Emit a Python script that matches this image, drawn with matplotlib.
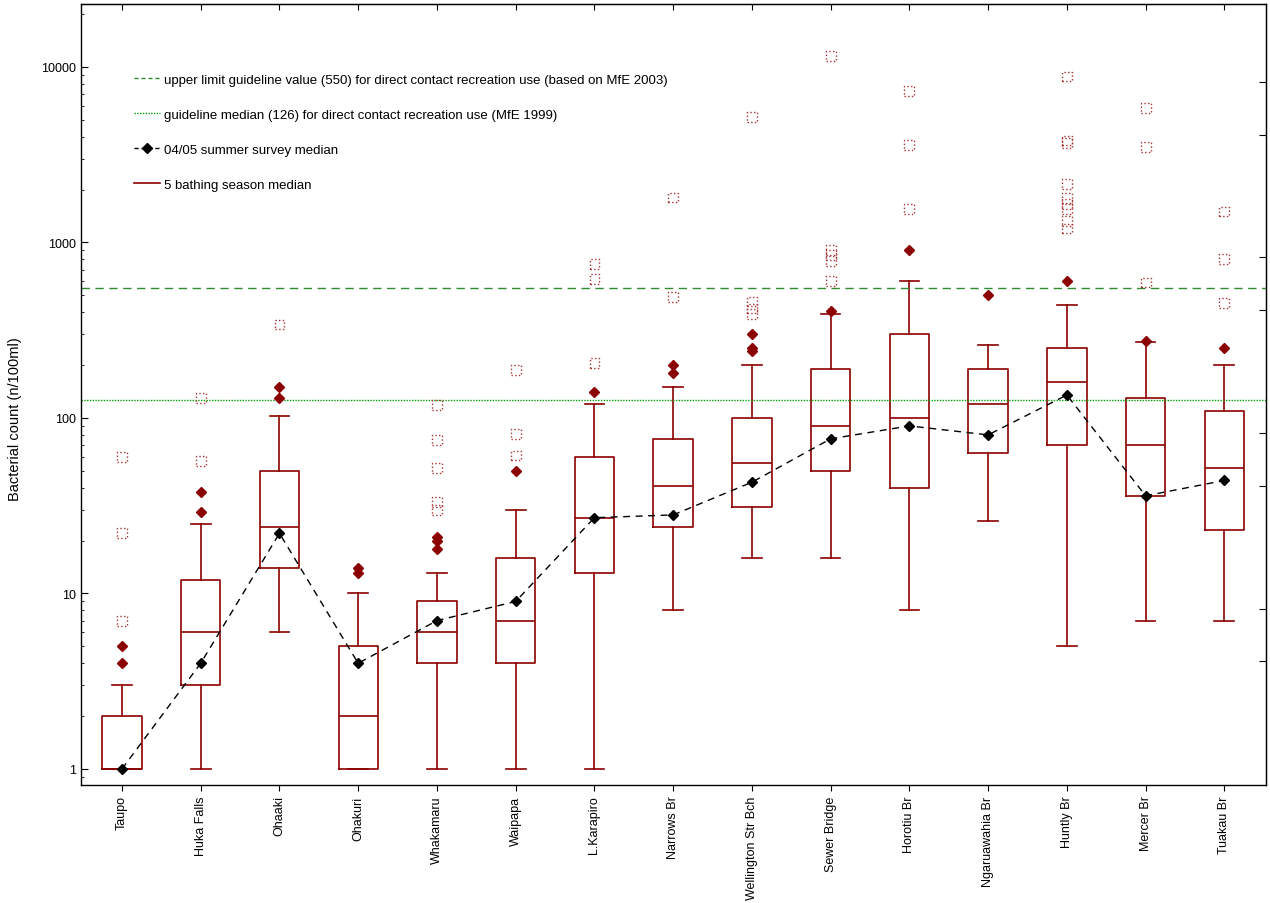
import matplotlib
matplotlib.use("Agg")
import matplotlib.pyplot as plt
from matplotlib.lines import Line2D
from matplotlib.ticker import LogLocator, NullFormatter, FixedLocator

plt.rcParams['font.family'] = ['Liberation Sans', 'DejaVu Sans']

# sites along the river
sites = ["Taupo", "Huka Falls", "Ohaaki", "Ohakuri", "Whakamaru", "Waipapa",
         "L.Karapiro", "Narrows Br", "Wellington Str Bch", "Sewer Bridge",
         "Horotiu Br", "Ngaruawahia Br", "Huntly Br", "Mercer Br", "Tuakau Br"]

# 5 bathing season box statistics
whis_lo = [1, 1, 6, 1, 1, 1, 1, 8, 16, 16, 8, 26, 5, 7, 7]
q1 = [1, 3, 14, 1, 4, 4, 13, 24, 31, 50, 40, 63, 70, 36, 23]
median = [1, 6, 24, 2, 6, 7, 27, 41, 55, 90, 100, 120, 160, 70, 52]
q3 = [2, 12, 50, 5, 9, 16, 60, 76, 100, 190, 300, 190, 250, 130, 110]
whis_hi = [3, 25, 102, 10, 13, 30, 120, 150, 200, 390, 600, 260, 440, 270, 200]

# outliers (filled diamonds) and extremes (dotted squares)
outliers = [[4, 5], [29, 38], [130, 150], [13, 14], [18, 20, 21], [50], [140],
            [180, 200], [240, 250, 300], [405], [900], [500], [600], [275], [250]]
extremes = [[7, 22, 60], [57, 130], [340], [], [30, 33, 52, 75, 118],
            [61, 81, 188], [205, 620, 750], [490, 1800], [390, 420, 460, 5200],
            [600, 780, 850, 900, 11500], [1550, 3600, 7300], [],
            [1200, 1320, 1550, 1660, 1780, 2150, 3700, 3800, 8800],
            [590, 3500, 5800], [450, 800, 1500]]

# 04/05 summer survey medians
survey = [1, 4, 22, 4, 7, 9, 27, 28, 43, 76, 90, 80, 135, 36, 44]

upper_limit = 550
guide_median = 126

red = "#8b0000"
fig = plt.figure(figsize=(12.7, 9.04), dpi=100)
ax = fig.add_axes([0.0638, 0.1305, 0.9331, 0.864])

stats = []
for i in range(len(sites)):
    stats.append(dict(med=median[i], q1=q1[i], q3=q3[i], whislo=whis_lo[i],
                      whishi=whis_hi[i], fliers=[]))
pos = list(range(len(sites)))
ax.bxp(stats, positions=pos, widths=0.5, showfliers=False,
       boxprops=dict(color=red, linewidth=1.2),
       medianprops=dict(color=red, linewidth=1.2),
       whiskerprops=dict(color=red, linewidth=1.2),
       capprops=dict(color=red, linewidth=1.2), capwidths=0.25)

for i in pos:
    if outliers[i]:
        ax.plot([i] * len(outliers[i]), outliers[i], linestyle="none", marker="D",
                markersize=5, color=red, zorder=3)
    if extremes[i]:
        ax.scatter([i] * len(extremes[i]), extremes[i], marker="s", s=50,
                   facecolors="none", edgecolors="#a83232", linestyles=":",
                   linewidths=1.0, zorder=3)

ax.plot(pos, survey, linestyle=(0, (5, 4)), color="black", linewidth=1.0,
        marker="D", markersize=5, zorder=4)

ax.axhline(upper_limit, color="#2e8b2e", linestyle=(0, (6, 4)), linewidth=1.0)
ax.axhline(guide_median, color="#00a000", linestyle=(0, (1, 1)), linewidth=1.0)

ax.set_yscale("log")
ax.set_ylim(0.81, 22800)
ax.set_xlim(-0.52, 14.53)
ax.yaxis.set_major_locator(FixedLocator([1, 10, 100, 1000, 10000]))
ax.set_yticklabels(["1", "10", "100", "1000", "10000"])
ax.yaxis.set_minor_locator(LogLocator(base=10, subs=range(2, 10)))
ax.yaxis.set_minor_formatter(NullFormatter())
ax.tick_params(axis="y", which="major", direction="in", length=5, labelsize=9)
ax.tick_params(axis="y", which="minor", direction="in", length=2.5)
ax.set_xticks(pos)
ax.set_xticklabels(sites, rotation=90, fontsize=9)
ax.tick_params(axis="x", direction="out", length=4, top=False)
ax.set_ylabel("Bacterial count (n/100ml)", fontsize=10.5, labelpad=10)
ax.yaxis.set_label_coords(-0.05, 0.47)

# top ticks point inward
sec = ax.secondary_xaxis("top")
sec.set_xticks(pos)
sec.tick_params(direction="in", length=4, labeltop=False)

# right side ticks
rsec = ax.secondary_yaxis("right")
rsec.set_yscale("log")
rsec.yaxis.set_major_locator(FixedLocator([4.1, 8.2, 41, 82, 410, 820, 4100, 8200]))
rsec.yaxis.set_minor_locator(FixedLocator([]))
rsec.tick_params(direction="in", length=5, labelright=False)

for s in ax.spines.values():
    s.set_linewidth(1.0)

handles = [
    Line2D([], [], color="#2e8b2e", linestyle=(0, (3, 2)), linewidth=1.0),
    Line2D([], [], color="#00a000", linestyle=(0, (1, 1)), linewidth=1.0),
    Line2D([], [], color="black", linestyle=(0, (3, 2)), marker="D",
           markersize=5, linewidth=1.0),
    Line2D([], [], color=red, linewidth=1.2),
]
labels = [
    "upper limit guideline value (550) for direct contact recreation use (based on MfE 2003)",
    "guideline median (126) for direct contact recreation use (MfE 1999)",
    "04/05 summer survey median",
    "5 bathing season median",
]
ax.legend(handles, labels, loc="upper left", bbox_to_anchor=(0.04, 0.918),
          frameon=False, fontsize=9.5, handlelength=2.0, handletextpad=0.3,
          labelspacing=1.74, borderaxespad=0)

fig.savefig("out.png", dpi=100)
